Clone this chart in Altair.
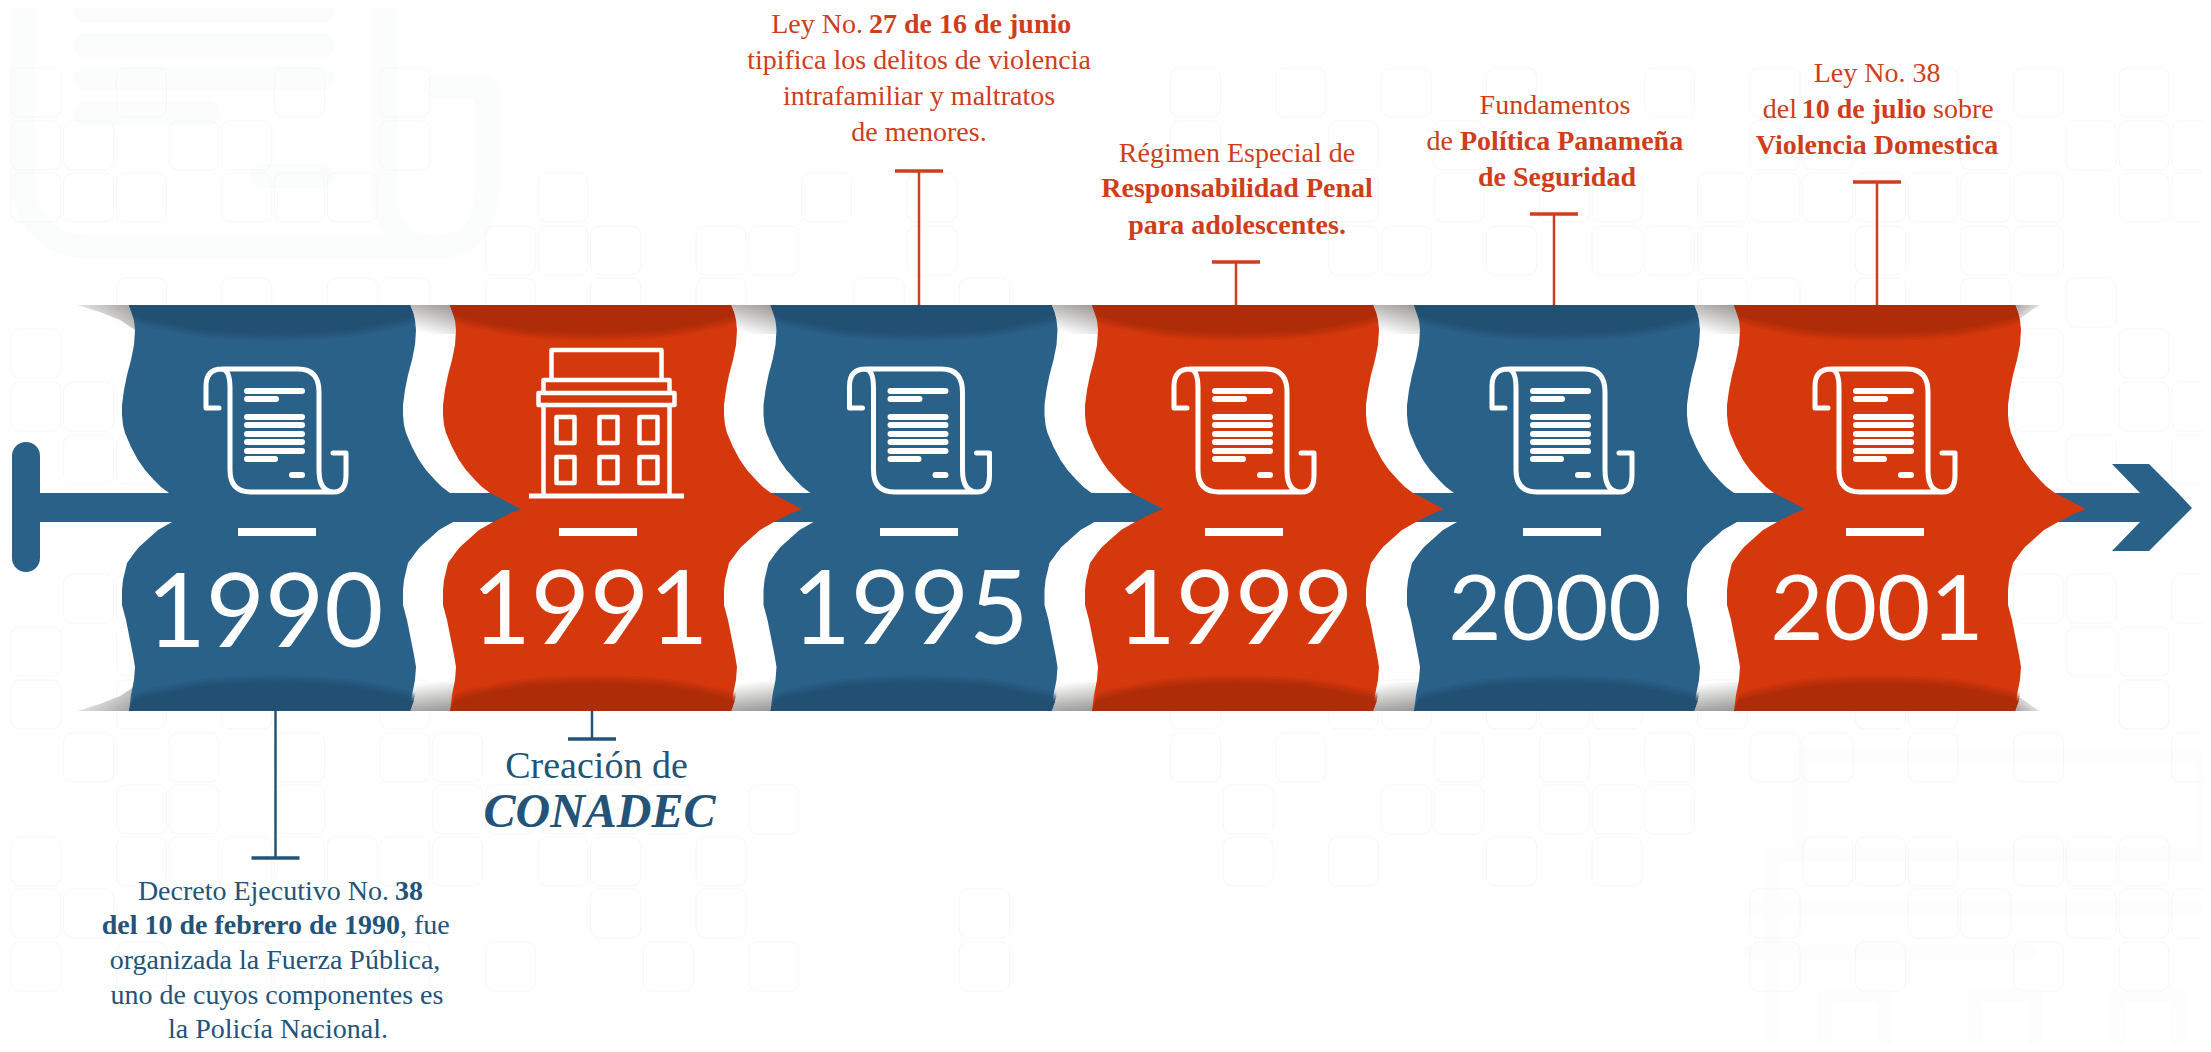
import altair as alt
import numpy as np
import pandas as pd

# ---------- palette ----------
BLUE = "#2A6189"; BLUE_DARK = "#225073"; RED = "#D6380E"; RED_DARK = "#AE2D09"
TXT_BLUE = "#245379"; TXT_RED = "#CF3D1B"; FAINT = "#F6F7F7"

# ---------- panels ----------
YEARS = ["1990", "1991", "1995", "1999", "2000", "2001"]
PANEL_L = [129, 450, 770.5, 1092, 1414, 1734]
PANEL_R = [410, 731, 1051.5, 1373, 1694, 2015]
PANEL_C = [BLUE, RED, BLUE, RED, BLUE, RED]
PANEL_D = [BLUE_DARK, RED_DARK, BLUE_DARK, RED_DARK, BLUE_DARK, RED_DARK]

# wavy edge: horizontal offset from the top corner at each height
EDGE_Y = [305, 312, 320, 330, 345, 360, 375, 390, 405, 415, 425, 433, 447, 460, 470, 480, 487, 493,
          499, 504, 509, 513, 517, 522, 530, 547, 552, 563, 580, 590, 605, 620, 640, 655, 667, 680, 695, 711]
EDGE_O = [0, 3, 5, 6, 5, 2, -2, -5, -7, -7, -6, -4, 2, 9, 16, 25, 32, 40,
          52, 61, 71, 61, 53, 43, 29, 10, 6, -2, -6, -7, -7, -3, 1, 4, 6, 5, 2, 0]

# dark shading under top and bottom of each panel
ARC_Y = [305, 320, 324, 328, 331, 335, 337, 338.5]
ARC_F = [1.05, 1.05, 0.92, 0.78, 0.68, 0.5, 0.3, 0.0]
ARC_SHIFT = [-5, -2.5, 0, 2.5]
ARC_OP = [1.0, 0.55, 0.4, 0.25]

# year labels
YEAR_X = [265, 590, 910, 1235, 1555, 1877]
YEAR_Y = [647, 644, 644, 644, 640, 640]
YEAR_S = [102, 102, 102, 102, 92, 92]

# dash under the icon
DASH_L = [238, 559, 880, 1205, 1523, 1846]
DASH_R = [316, 637, 958, 1283, 1601, 1924]

# icons
SCROLL_X = [276, 919.5, 1244, 1562, 1885]
SCROLL_Y = [430, 430, 430, 430, 430]
BUILD_X = [606.5]
BUILD_Y = [422]

# leader lines: x, from, to, colour
LEAD_X = [275.5, 592, 919, 1236, 1554, 1877]
LEAD_A = [711, 711, 305, 305, 305, 305]
LEAD_B = [858, 739, 171, 262, 214, 182]
LEAD_C = [TXT_BLUE, TXT_BLUE, TXT_RED, TXT_RED, TXT_RED, TXT_RED]

# axis arrow
SHAFT_X = [40, 2141]
SHAFT_Y = [493, 522]
CAP_X = [26]
CAP_Y = [456, 558]
HEAD_Y = [464, 493, 508, 522, 551]
HEAD_A = [2112, 2140, 2140, 2140, 2112]
HEAD_B = [2149, 2178, 2192, 2178, 2149]

# faint background tiles: row top -> column numbers
TILE_ROWS = {
    68: [0, 2, 5, 7, 22, 24, 26, 28, 31, 33, 36, 38, 40],
    121: [0, 1, 3, 4, 7, 22, 25, 27, 29, 33, 34, 37, 39, 40, 41],
    173: [0, 1, 2, 4, 5, 6, 10, 15, 17, 24, 25, 27, 29, 30, 32, 33, 34, 35, 36, 37, 38, 40, 41],
    226: [9, 10, 11, 13, 14, 17, 25, 26, 28, 30, 31, 32, 35, 37, 38],
    278: [2, 4, 6, 7, 9, 11, 13, 16, 18, 32, 33, 35, 37, 39],
    329: [0, 38, 40],
    382: [0, 1, 38, 40, 41],
    435: [1, 2, 39, 41],
    574: [1, 2, 38, 39, 41],
    627: [0, 2, 39, 40],
    680: [0, 2, 4, 7, 22, 25, 26, 28, 29, 30, 32, 35, 36, 40],
    733: [1, 3, 5, 7, 8, 22, 24, 27, 29, 31, 33, 34, 36, 38, 41],
    785: [2, 3, 5, 8, 9, 10, 11, 12, 14, 23, 26, 27, 29, 30, 31],
    837: [0, 2, 3, 4, 5, 6, 7, 8, 10, 11, 13, 23, 25, 28, 30, 34, 35, 36, 38, 39, 40],
    889: [0, 1, 11, 13, 18, 33, 36, 37, 39, 40, 41],
    942: [0, 2, 4, 5, 7, 9, 12, 14, 18, 33, 35, 38, 40],
}
TILE_X0 = 11; TILE_DX = 52.7; TILE_W = 50; TILE_H = 49

# ---------- caption text (x, baseline, text) ----------
BLUE_REG_C = [(275, 969, "organizada la Fuerza Pública,"), (277, 1004, "uno de cuyos componentes es"),
              (278, 1038, "la Policía Nacional.")]
BLUE_REG_R = [(389, 900, "Decreto Ejecutivo No.")]
BLUE_BOLD_L = [(395, 900, "38")]
BLUE_BOLD_R = [(400, 934, "del 10 de febrero de 1990")]
BLUE_REG_L = [(400, 934, ", fue")]

RED_REG_C = [(919, 69, "tipifica los delitos de violencia"), (919, 105, "intrafamiliar y maltratos"),
             (919, 141, "de menores."), (1237, 162, "Régimen Especial de"),
             (1555, 114, "Fundamentos"), (1877, 82, "Ley No. 38")]
RED_REG_R = [(863, 33, "Ley No."), (1453, 150, "de"), (1797, 118, "del")]
RED_REG_L = [(1933, 118, "sobre")]
RED_BOLD_C = [(1237, 197, "Responsabilidad Penal"), (1237, 234, "para adolescentes."),
              (1557, 186, "de Seguridad"), (1864, 118, "10 de julio"), (1877, 154, "Violencia Domestica")]
RED_BOLD_L = [(869, 33, "27 de 16 de junio"), (1460, 150, "Política Panameña")]

# ---------- scales ----------
W, H = 2195, 1036
SX = alt.Scale(domain=[8, 8 + W], nice=False, zero=False)
SY = alt.Scale(domain=[8 + H, 8], nice=False, zero=False)
X = lambda f="x": alt.X(f"{f}:Q", scale=SX, axis=None)
Y = lambda f="y": alt.Y(f"{f}:Q", scale=SY, axis=None)


def off(y):
    return np.interp(y, EDGE_Y, EDGE_O)


def panel_layer(idx):
    rows = []
    for i in idx:
        for y, o in zip(EDGE_Y, EDGE_O):
            rows.append(dict(p=i, y=y, x=PANEL_L[i] + o, x2=PANEL_R[i] + o))
    return (alt.Chart(pd.DataFrame(rows))
            .mark_area(orient="horizontal", interpolate="linear", color=PANEL_C[idx[0]])
            .encode(x=X(), x2="x2:Q", y=Y(), detail="p:N"))


def arc_layer(idx):
    rows = []
    for i in idx:
        cx = (PANEL_L[i] + PANEL_R[i]) / 2
        hw = (PANEL_R[i] - PANEL_L[i]) / 2
        for side in ("t", "b"):
            for s, op in zip(ARC_SHIFT, ARC_OP):
                for y, f in zip(ARC_Y, ARC_F):
                    yy = y + s if y > 305 else 305
                    yy = max(yy, 305.5) if y > 305 else yy
                    o = off(yy)
                    a = max(cx + o - f * hw, PANEL_L[i] + o)
                    b = min(cx + o + f * hw, PANEL_R[i] + o)
                    rows.append(dict(g=f"{i}{side}{s}", op=op,
                                     y=yy if side == "t" else 1016 - yy, x=a, x2=b))
    return (alt.Chart(pd.DataFrame(rows))
            .mark_area(orient="horizontal", interpolate="linear", color=PANEL_D[idx[0]])
            .encode(x=X(), x2="x2:Q", y=Y(), detail="g:N", opacity=alt.Opacity("op:Q", scale=None)))


def wedge_rows(ys, a, b):
    return [dict(y=y, x=a(y), x2=b(y)) for y in ys]


def grad(x1, y1, x2, y2, c="#9E9C9B"):
    return alt.Gradient(gradient="linear", x1=x1, y1=y1, x2=x2, y2=y2,
                        stops=[alt.GradientStop(color=c, offset=0),
                               alt.GradientStop(color="#C4C3C2", offset=0.4),
                               alt.GradientStop(color="#FFFFFF", offset=1)])


WEDGE_TOP = [305, 310, 315, 320, 325, 330, 334]
WEDGE_BOT = [682, 686, 691, 696, 701, 706, 711]
wedge_layers = []
for i in range(5):
    a = lambda y, i=i: PANEL_R[i] + off(y)
    b = lambda y, i=i: PANEL_L[i + 1] + off(y) + 1
    wedge_layers.append(alt.Chart(pd.DataFrame(wedge_rows(WEDGE_TOP, a, b)))
                        .mark_area(orient="horizontal", color=grad(0.8, 0, 0.35, 1))
                        .encode(x=X(), x2="x2:Q", y=Y()))
    wedge_layers.append(alt.Chart(pd.DataFrame(wedge_rows(WEDGE_BOT, a, b)))
                        .mark_area(orient="horizontal", color=grad(0.6, 1, 0.4, 0))
                        .encode(x=X(), x2="x2:Q", y=Y()))
# outer wedges
OUT_L_Y = [305, 312, 320, 330]
OUT_L_X = [77, 100, 120, 135]
OUT_R_Y = [305, 310, 318]
OUT_R_X = [2040, 2032, 2021]
wedge_layers.append(alt.Chart(pd.DataFrame(dict(y=OUT_L_Y, x=OUT_L_X, x2=[PANEL_L[0] + off(y) + 1 for y in OUT_L_Y])))
                    .mark_area(orient="horizontal", color=grad(1, 0, 0, 0.6)).encode(x=X(), x2="x2:Q", y=Y()))
wedge_layers.append(alt.Chart(pd.DataFrame(dict(y=[1016 - y for y in OUT_L_Y], x=OUT_L_X, x2=[PANEL_L[0] + off(y) + 1 for y in OUT_L_Y])))
                    .mark_area(orient="horizontal", color=grad(1, 1, 0, 0.4)).encode(x=X(), x2="x2:Q", y=Y()))
wedge_layers.append(alt.Chart(pd.DataFrame(dict(y=OUT_R_Y, x=[PANEL_R[5] + off(y) - 1 for y in OUT_R_Y], x2=OUT_R_X)))
                    .mark_area(orient="horizontal", color=grad(0, 0, 1, 0.6)).encode(x=X(), x2="x2:Q", y=Y()))
wedge_layers.append(alt.Chart(pd.DataFrame(dict(y=[1016 - y for y in OUT_R_Y], x=[PANEL_R[5] + off(y) - 1 for y in OUT_R_Y], x2=OUT_R_X)))
                    .mark_area(orient="horizontal", color=grad(0, 1, 1, 0.4)).encode(x=X(), x2="x2:Q", y=Y()))


def text_layer(rows, color, size, align="center", weight="normal", style="normal", font="Liberation Serif"):
    df = pd.DataFrame(rows, columns=["x", "y", "t"])
    return (alt.Chart(df)
            .mark_text(font=font, fontSize=size, color=color, align=align, baseline="alphabetic",
                       fontWeight=weight, fontStyle=style)
            .encode(x=X(), y=Y(), text="t:N"))


def point_path(xs, ys, path, stroke, width, cap="round"):
    return (alt.Chart(pd.DataFrame(dict(x=xs, y=ys)))
            .mark_point(shape=path, size=4, filled=False, stroke=stroke, strokeWidth=width,
                        strokeCap=cap, strokeJoin="round", opacity=1)
            .encode(x=X(), y=Y()))


SCROLL_OUTLINE = ("M-57 -22 H-70 V-44 Q-70 -61 -54 -61 H22 Q43 -61 43 -38 V40 Q43 62 58 62 "
                  "Q70 62 70 45 V23 H57 M-54 -61 Q-46 -60 -46 -42 V40 Q-46 62 -25 62 H58")
SCROLL_BARS = ("M-29 -39 H26 M-29 -31 H0 M-29 -13 H26 M-29 -5 H26 M-29 4 H26 M-29 12 H26 "
               "M-29 21 H26 M-29 29 H-1 M16 45 H26")
BUILDING = ("M-55 -42 V-72 H55 V-42 M-63 -29 V-42 H63 V-29 M-68 -29 H68 V-17 H-68 Z "
            "M-63 -17 V73 M63 -17 V73 "
            "M-50 -5 H-32 V21 H-50 Z M-7 -5 H11 V21 H-7 Z M33 -5 H51 V21 H33 Z "
            "M-50 35 H-32 V61 H-50 Z M-7 35 H11 V61 H-7 Z M33 35 H51 V61 H33 Z")
BUILD_BASE = "M-75 74 H75"
WATER_TL = ("M22 -30 V170 Q22 247 95 247 H435 Q486 247 486 190 V87 H435 M385 -30 V190 Q385 247 435 247 "
            "M85 11 H323 M85 45 H323 M85 79 H323 M85 113 H208 M262 176 H323")
WATER_BR = ("M1800 840 V756 H2204 M2204 756 V855 H1772 V1052 M1750 908 H2204 M1750 952 H2030 "
            "M1825 1052 V995 H1885 V1052 M1975 1052 V995 H2035 V1052 M2118 1052 V995 H2178 V1052")

layers = []
# watermark
layers.append(point_path([0], [0], WATER_TL, "#FBFCFC", 24))
layers.append(point_path([0], [0], WATER_BR, "#FDFDFD", 15))

# tiles
tile_rows = [dict(x=TILE_X0 + TILE_DX * k, x2=TILE_X0 + TILE_DX * k + TILE_W, y=r, y2=r + TILE_H)
             for r, ks in TILE_ROWS.items() for k in ks]
layers.append(alt.Chart(pd.DataFrame(tile_rows))
              .mark_rect(fillOpacity=0, stroke=FAINT, strokeWidth=1, cornerRadius=9)
              .encode(x=X(), x2="x2:Q", y=Y(), y2="y2:Q"))

layers += wedge_layers

# shaft and head
layers.append(alt.Chart(pd.DataFrame(dict(x=[SHAFT_X[0]], x2=[SHAFT_X[1]], y=[SHAFT_Y[0]], y2=[SHAFT_Y[1]])))
              .mark_rect(color=BLUE).encode(x=X(), x2="x2:Q", y=Y(), y2="y2:Q"))
layers.append(alt.Chart(pd.DataFrame(dict(x=CAP_X * 2, y=CAP_Y)))
              .mark_line(color=BLUE, strokeWidth=28, strokeCap="round").encode(x=X(), y=Y()))
layers.append(alt.Chart(pd.DataFrame(dict(y=HEAD_Y, x=HEAD_A, x2=HEAD_B)))
              .mark_area(orient="horizontal", color=BLUE).encode(x=X(), x2="x2:Q", y=Y()))

# panels: blue under red
layers.append(panel_layer([0, 2, 4]))
layers.append(arc_layer([0, 2, 4]))
layers.append(panel_layer([1, 3, 5]))
layers.append(arc_layer([1, 3, 5]))

# icons
layers.append(point_path(SCROLL_X, SCROLL_Y, SCROLL_OUTLINE, "white", 5))
layers.append(point_path(SCROLL_X, SCROLL_Y, SCROLL_BARS, "white", 6))
layers.append(point_path(BUILD_X, BUILD_Y, BUILDING, "white", 4.5))
layers.append(point_path(BUILD_X, BUILD_Y, BUILD_BASE, "white", 5, cap="square"))

# dashes
layers.append(alt.Chart(pd.DataFrame(dict(x=DASH_L, x2=DASH_R, y=[528] * 6, y2=[536] * 6)))
              .mark_rect(color="white").encode(x=X(), x2="x2:Q", y=Y(), y2="y2:Q"))

# years
for s in sorted(set(YEAR_S)):
    rows = [(x, y, t) for x, y, t, z in zip(YEAR_X, YEAR_Y, YEARS, YEAR_S) if z == s]
    layers.append(text_layer(rows, "white", s, weight="normal", font="Lato"))

# leaders
for x, a, b, c in zip(LEAD_X, LEAD_A, LEAD_B, LEAD_C):
    layers.append(alt.Chart(pd.DataFrame(dict(x=[x], y=[a], y2=[b])))
                  .mark_rule(color=c, strokeWidth=2.5).encode(x=X(), y=Y(), y2="y2:Q"))
    layers.append(alt.Chart(pd.DataFrame(dict(x=[x - 24], x2=[x + 24], y=[b])))
                  .mark_rule(color=c, strokeWidth=3.5).encode(x=X(), x2="x2:Q", y=Y()))

# captions
CS = 28
layers += [
    text_layer(BLUE_REG_C, TXT_BLUE, CS), text_layer(BLUE_REG_R, TXT_BLUE, CS, "right"),
    text_layer(BLUE_REG_L, TXT_BLUE, CS, "left"),
    text_layer(BLUE_BOLD_L, TXT_BLUE, CS, "left", "bold"), text_layer(BLUE_BOLD_R, TXT_BLUE, CS, "right", "bold"),
    text_layer([(596.5, 778, "Creación de")], TXT_BLUE, 38),
    text_layer([(599.5, 827, "CONADEC")], TXT_BLUE, 48, "center", "bold", "italic"),
    text_layer(RED_REG_C, TXT_RED, CS), text_layer(RED_REG_R, TXT_RED, CS, "right"),
    text_layer(RED_REG_L, TXT_RED, CS, "left"),
    text_layer(RED_BOLD_C, TXT_RED, CS, "center", "bold"), text_layer(RED_BOLD_L, TXT_RED, CS, "left", "bold"),
]

chart = (alt.layer(*layers)
         .properties(width=W, height=H, padding=0, autosize=alt.AutoSizeParams(type="none"))
         .configure_view(stroke=None))
chart.save("out.html", embed_options={"renderer": "svg", "actions": False})
